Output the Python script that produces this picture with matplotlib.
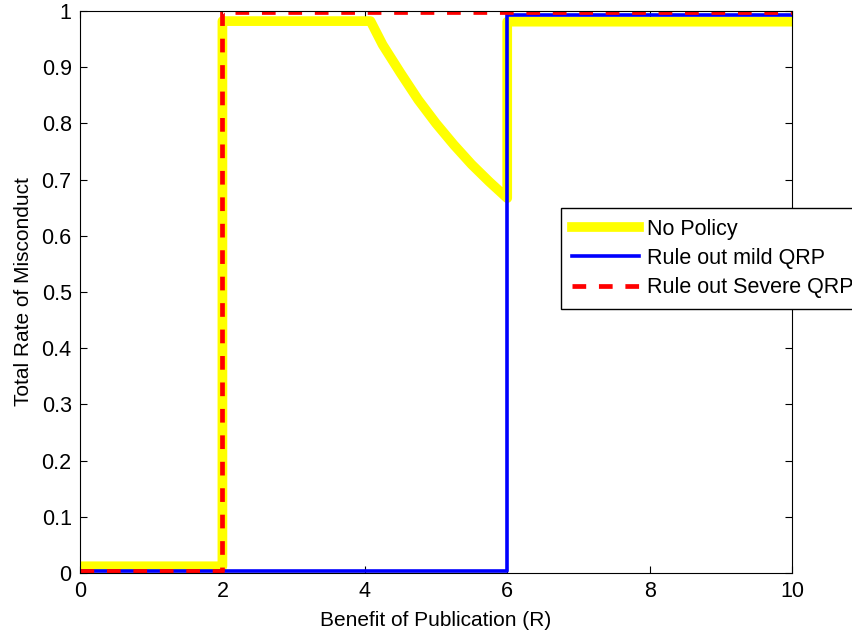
import matplotlib.pyplot as plt

plt.rcParams['font.family'] = ['Liberation Sans', 'DejaVu Sans']
plt.rcParams['font.size'] = 15

# values (step corners)
r_none = [0, 2, 2, 4.08, 4.25, 4.5, 4.75, 5.0, 5.25, 5.5, 5.75, 6.0, 6.0, 10]
rate_none = [0.012, 0.012, 0.982, 0.982, 0.94, 0.89, 0.842, 0.80, 0.762, 0.727, 0.696, 0.667, 0.981, 0.981]

r_mild = [0, 6, 6, 10]
rate_mild = [0.004, 0.004, 0.992, 0.992]

r_severe = [0, 2, 2, 10]
rate_severe = [0.003, 0.003, 0.999, 0.999]

fig = plt.figure(figsize=(8.53, 6.35), dpi=100)
ax = fig.add_axes([0.0938, 0.0976, 0.8347, 0.8851])

ax.plot(r_none, rate_none, color='yellow', lw=7, label='No Policy')
ax.plot(r_mild, rate_mild, color='blue', lw=2.6, label='Rule out mild QRP')
ax.plot(r_severe, rate_severe, color='red', lw=3.4, dashes=(2.9, 2.7), label='Rule out Severe QRP')

ax.set_xlim(0, 10)
ax.set_ylim(0, 1)
ax.set_xticks([0, 2, 4, 6, 8, 10])
ax.set_yticks([i / 10 for i in range(11)])
ax.set_yticklabels(['0', '0.1', '0.2', '0.3', '0.4', '0.5', '0.6', '0.7', '0.8', '0.9', '1'])
ax.tick_params(direction='in', top=True, right=True, length=5, labelsize=15.5, pad=6)
ax.set_xlabel('Benefit of Publication (R)', fontsize=15, labelpad=6)
ax.set_ylabel('Total Rate of Misconduct', fontsize=15, labelpad=6)

# legend sits partly outside the figure, as in the original
ax.legend(loc='upper left', bbox_to_anchor=(0.6756, 0.6495), fontsize=15.5,
          handlelength=3.1, handletextpad=0.4, fancybox=False, edgecolor='black',
          framealpha=1, borderaxespad=0, labelspacing=0.38, borderpad=0.5)

fig.savefig('out.png')
